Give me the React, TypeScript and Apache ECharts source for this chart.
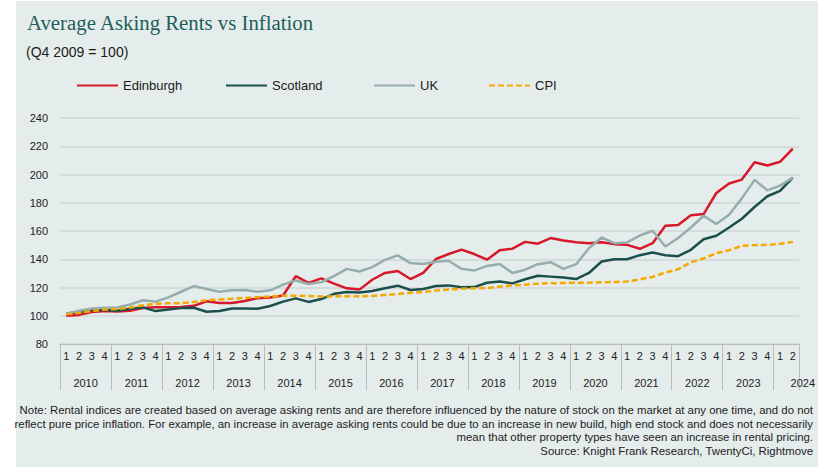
import React, { useEffect, useRef } from "react";
import * as echarts from "echarts";

const years = ["2010","2011","2012","2013","2014","2015","2016","2017","2018","2019","2020","2021","2022","2023","2024"];
const quarterLabels: string[] = [];
const yearOfPoint: string[] = [];
years.forEach((y) => {
  const n = y === "2024" ? 2 : 4;
  for (let q = 1; q <= n; q++) { quarterLabels.push(String(q)); yearOfPoint.push(y); }
});

const edinburgh = [100, 100.6, 102.7, 103.4, 103, 103.6, 105.5, 106, 106, 106.2, 107, 110.3, 109, 109, 110.5, 112.4,
  112.9, 114.3, 128, 123.3, 126.5, 122.7, 119.4, 118.5, 125.5, 130.3, 131.7, 126, 130.3, 140.2, 143.7, 146.8,
  143.7, 139.7, 146.3, 147.5, 152.3, 151, 155, 153.3, 152.1, 151.4, 152.1, 150.7, 150.2, 147.4, 151.4, 163.7,
  164.2, 171.1, 172, 186.9, 193.6, 196.4, 208.7, 206.4, 209, 218.4];
const scotland = [101.6, 102.6, 104, 104, 103.5, 105, 105.9, 103.3, 104.5, 105.4, 105.7, 102.8, 103.3, 105.2, 105.2, 105,
  106.9, 110, 112.3, 109.8, 111.8, 115.5, 116.8, 116.4, 117.5, 119.4, 121.3, 118.2, 118.9, 121.1, 121.5, 120.1,
  120.3, 123.4, 124.3, 122.9, 125.8, 128.3, 127.7, 127, 126, 130.3, 138.4, 140, 140, 142.9, 144.8, 142.9,
  142.2, 146.7, 154.2, 156.6, 162.5, 168.7, 177, 184.6, 188.4, 197.8];
const uk = [101.5, 103.5, 105.2, 105.6, 105.9, 108, 111, 110, 113, 117, 121, 119, 117, 118, 118.3, 117,
  118, 122, 125, 122.5, 123.8, 128, 133.2, 131.3, 134.4, 139.6, 142.7, 137.3, 136.6, 138.2, 138.9, 133.2,
  132, 135.3, 136.6, 130.3, 132.6, 136.5, 137.9, 133.2, 136.5, 147.8, 155.4, 151.4, 151.9, 156.8, 160.2, 149,
  155, 162.5, 170.8, 164.9, 171.5, 183.1, 196.2, 188.8, 192.1, 197.8];
const cpi = [101, 102, 103.4, 104.4, 104.8, 105.8, 107.4, 108.4, 108.9, 108.9, 109.8, 111, 111.5, 112, 112.6, 113.1,
  113.6, 114.2, 114.2, 114, 113.6, 113.8, 113.8, 113.8, 114, 114.7, 115.4, 116.3, 116.8, 117.8, 118.5, 119.2,
  119.4, 119.6, 120.6, 121.5, 122, 122.7, 123, 123.2, 123.4, 123.4, 123.7, 123.9, 124.2, 125.8, 127.5, 130.6,
  132.9, 137.9, 140.5, 144.3, 146.4, 149.5, 150, 150.2, 150.9, 152.3];

const seriesNames = ["Edinburgh", "Scotland", "UK", "CPI"];
const seriesColors = ["#D7182A", "#1B4F4B", "#96AEAB", "#F5A800"];
const legendLeft = [76, 225, 373, 488];

const titleText = "Average Asking Rents vs Inflation";
const subtitleText = "(Q4 2009 = 100)";
const noteLines = [
  "Note: Rental indices are created based on average asking rents and are therefore influenced by the nature of stock on the market at any one time, and do not",
  "reflect pure price inflation. For example, an increase in average asking rents could be due to an increase in new build, high end stock and does not necessarily",
  "mean that other property types have seen an increase in rental pricing.",
  "Source: Knight Frank Research, TwentyCi, Rightmove",
];

const SANS = "Liberation Sans, Arial, sans-serif";

export default function App() {
  const ref = useRef<HTMLDivElement>(null);
  useEffect(() => {
    const chart = echarts.init(ref.current!, null, { renderer: "svg" });
    const dataSets = [edinburgh, scotland, uk, cpi];
    chart.setOption({
      animation: false,
      backgroundColor: "#ffffff",
      graphic: [
        { type: "rect", z: -100, shape: { x: 16, y: 1, width: 802, height: 466 }, style: { fill: "#E5EDEC" } },
        { type: "text", x: 27, y: 22, style: { text: titleText, font: "20.8px 'Liberation Serif', serif", fill: "#1F5E5A", verticalAlign: "middle" } },
        { type: "text", x: 26, y: 52, style: { text: subtitleText, font: `14px ${SANS}`, fill: "#1a1a1a", verticalAlign: "middle" } },
        ...noteLines.map((t, i) => ({
          type: "text", x: 813, y: 410 + i * 13.7,
          style: { text: t, font: "11.4px 'Liberation Sans Narrow', 'Arial Narrow', sans-serif", fill: "#222", align: "right", verticalAlign: "middle" },
        })),
      ],
      legend: seriesNames.map((n, i) => ({
        show: true, data: [n], left: legendLeft[i], top: 79, itemWidth: 41, itemHeight: 14, padding: 0,
        itemStyle: { opacity: 0 },
        textStyle: { fontSize: 13, fontFamily: SANS, color: "#1a1a1a" },
      })),
      grid: { left: 60, right: 13, top: 118, bottom: 123, containLabel: false },
      xAxis: [
        {
          type: "category", data: quarterLabels, boundaryGap: true, position: "bottom",
          axisLine: { show: true, lineStyle: { color: "#B8BCBC", width: 1 } },
          axisTick: { show: true, length: 46, interval: (i: number) => i % 4 === 0, lineStyle: { color: "#B8BCBC" } },
          axisLabel: { interval: 0, margin: 6, fontSize: 11, fontFamily: SANS, color: "#222" },
          splitLine: { show: false },
        },
        {
          type: "category", data: yearOfPoint, boundaryGap: true, position: "bottom",
          axisLine: { show: false }, axisTick: { show: false }, splitLine: { show: false },
          axisLabel: {
            interval: 0, margin: 33, fontSize: 11, fontFamily: SANS, color: "#222",
            formatter: (v: string, i: number) => (i % 4 === 1 ? (v === "2024" ? `{e|${v}}` : `{y|${v}}`) : ""),
            rich: {
              y: { fontSize: 11, fontFamily: SANS, color: "#222", padding: [0, 0, 0, 13] },
              e: { fontSize: 11, fontFamily: SANS, color: "#222", padding: [0, 0, 0, 20] },
            },
          },
        },
      ],
      yAxis: {
        type: "value", min: 80, max: 240, interval: 20,
        axisLine: { show: false }, axisTick: { show: false },
        axisLabel: { fontSize: 11, fontFamily: SANS, color: "#222", margin: 12 },
        splitLine: { show: true, lineStyle: { color: "#CFD4D4", width: 1.5 } },
      },
      series: seriesNames.map((n, i) => ({
        name: n, type: "line", data: dataSets[i], symbol: "none", xAxisIndex: 0,
        color: seriesColors[i],
        lineStyle: { color: seriesColors[i], width: 2.5, type: n === "CPI" ? [6, 3] : "solid" },
      })),
    });
    return () => chart.dispose();
  }, []);
  return <div ref={ref} style={{ position: "fixed", left: 0, top: 0, width: 818, height: 467 }} />;
}
